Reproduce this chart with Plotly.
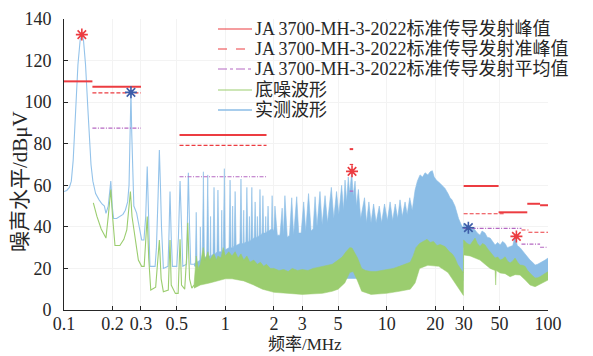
import plotly.graph_objects as go

# ---------------- data ----------------
# measured waveform, low-frequency part (drawn as a line)
meas_line_f = [0.100, 0.104, 0.108, 0.111, 0.114, 0.118, 0.122, 0.126, 0.129, 0.132,
               0.136, 0.141, 0.147, 0.151, 0.157, 0.165, 0.172, 0.178, 0.182, 0.188,
               0.195, 0.199, 0.203, 0.212, 0.222, 0.232, 0.240, 0.248, 0.253, 0.257,
               0.260, 0.263, 0.267, 0.271, 0.282, 0.292, 0.303, 0.313, 0.321, 0.328,
               0.334, 0.341, 0.367, 0.374, 0.383, 0.390, 0.396, 0.402, 0.413, 0.441,
               0.447, 0.454, 0.462, 0.470, 0.500, 0.512, 0.524, 0.535, 0.545, 0.575,
               0.582, 0.590, 0.600, 0.610, 0.640]
meas_line_v = [57, 57.5, 59, 62, 72, 95, 118, 130, 132.5, 130,
               118, 95, 70, 62, 56, 53, 51, 50, 46.5, 50,
               62, 50, 44, 44, 45, 46, 48, 52, 60, 85,
               104.7, 85, 60, 50, 46.6, 40, 33.7, 33.7, 45, 69,
               40, 21, 21, 30, 55, 77, 60, 40, 20, 21,
               35, 57, 35, 21, 21, 35, 62, 35, 21, 22,
               40, 66, 40, 22, 22]

# measured waveform, dense part: upper edge
meas_hi_f = [0.64, 0.652, 0.66, 0.668, 0.695, 0.70, 0.706, 0.72, 0.731, 0.742,
             0.766, 0.778, 0.79, 0.805, 0.81, 0.816, 0.838, 0.851, 0.864, 0.887,
             0.90, 0.914, 0.943, 0.95, 0.957, 0.971, 0.986, 1.00, 1.054, 1.07,
             1.086, 1.103, 1.11, 1.118, 1.133, 1.15, 1.167, 1.231, 1.25, 1.269,
             1.29, 1.30, 1.31, 1.34, 1.36, 1.38, 1.40, 1.41, 1.42, 1.44,
             1.46, 1.48, 1.51, 1.53, 1.55, 1.57, 1.58, 1.59, 1.62, 1.64,
             1.66, 1.69, 1.71, 1.73, 1.77, 1.78, 1.79, 1.82, 1.84, 1.86,
             1.93, 1.95, 1.97, 2.00, 2.03,
             2.10, 2.18, 2.25, 2.29, 2.34,
             2.42, 2.50, 2.58, 2.65, 2.77, 2.85, 2.95, 3.06, 3.15, 3.28,
             3.40, 3.50, 3.60, 3.70, 3.86, 3.98, 4.15, 4.30, 4.54, 4.70,
             4.89, 5.05, 5.26, 5.40, 5.52, 5.65, 5.78, 5.90, 6.07, 6.20,
             6.37, 6.50, 6.68, 6.90, 7.29, 7.50, 7.76, 8.0, 8.3, 8.6,
             9.0, 9.3, 9.7, 10.1, 10.5, 10.9, 11.3, 11.7, 12.1, 12.5,
             13.0, 13.4, 13.9, 14.4, 15.0, 15.5, 16.1, 16.7, 17.3, 18.0,
             18.6, 19.2, 19.7, 20.3, 21.4, 22.2, 23.0, 24.0, 24.7, 25.4,
             26.5, 27.2, 27.9, 29.0, 29.9,
             30.0, 30.6, 31.5, 32.1, 32.9, 33.8, 35.3, 36.5, 37.9, 39.0,
             40.7, 42.0, 43.8, 45.3, 47.0, 48.8, 50.5, 52.3, 54.2, 56.0,
             58.2, 60.5, 62.5, 64.5, 67.1, 69.5, 72.1, 74.5, 77.4, 80.2,
             83.2, 86.2, 89.3, 92.5, 95.9, 100]
meas_hi_v = [22, 23, 47, 23, 24, 40, 24, 25, 66.5, 25,
             26, 65, 26, 26, 45, 26, 27, 59, 27, 28,
             57.7, 28, 28, 48, 28, 29, 68, 29, 30, 62.5,
             30, 30, 50, 30, 31, 57, 31, 32, 63, 32,
             32, 48, 32, 33, 59, 33, 33, 45, 33, 34,
             59, 34, 35, 52, 35, 35, 45, 35, 36, 58,
             36, 37, 55, 37, 37, 45, 37, 38, 50, 38,
             39, 55, 39, 38, 50,
             36, 36, 49, 36, 55,
             35, 36, 54, 36, 54.5, 37, 37, 52, 38, 56,
             38, 39, 54.5, 40, 57, 41, 55, 42, 59, 44,
             57, 46, 60, 48, 62.5, 52, 64, 56, 66.5, 55,
             62, 50, 58, 44, 54, 42, 52, 42, 51, 42,
             50, 42, 51, 43, 52, 43, 51, 44, 53, 45,
             52, 46, 54, 48, 57.7, 62, 65, 64, 66, 65,
             66.5, 67, 64, 62.5, 61, 59.5, 58.5, 56, 54, 53,
             50, 47, 44, 41, 39.3,
             41.7, 40, 41, 40, 38, 40, 38.5, 37, 36, 38,
             37, 35, 34.6, 33, 31.3, 32.5, 31.3, 33, 32, 30,
             30.5, 31, 36, 31, 30, 28.5, 27.4, 26, 24, 23,
             21.6, 22, 22.6, 23, 24, 25]
# measured waveform, dense part: lower edge
meas_lo_f = [0.64, 0.70, 0.80, 1.0, 1.5, 2.0, 5.0, 10.0, 14.0, 16.0,
             20.0, 25.0, 28.0, 29.9, 30.0, 40.0, 50.0, 60.0, 70.0, 80.0,
             90.0, 100]
meas_lo_v = [21, 20, 20, 20, 18, 15, 15, 15, 17, 25,
             25, 22, 17, 14, 30, 29, 22, 21, 20, 15,
             15, 17]

# noise floor, low-frequency part (line)
noise_line_f = [0.152, 0.160, 0.170, 0.182, 0.188, 0.195, 0.200, 0.207, 0.222, 0.235,
                0.245, 0.252, 0.258, 0.264, 0.276, 0.289, 0.303, 0.314, 0.322, 0.328,
                0.335, 0.345, 0.370, 0.380, 0.390, 0.400, 0.413, 0.443, 0.450, 0.454,
                0.462, 0.490, 0.510, 0.518, 0.524, 0.535, 0.560, 0.575, 0.585, 0.600,
                0.620, 0.640]
noise_line_v = [51.5, 45, 39, 34.6, 45, 58, 45, 31, 31, 34,
                38.5, 50, 57, 45, 33.7, 24, 21, 21, 35, 45,
                25, 9.6, 11, 25, 33.7, 15, 8.8, 9.6, 22, 33.7,
                12, 8, 8, 22, 34, 12, 10, 25, 42, 15,
                10.5, 12]
# noise floor, dense part: upper edge
noise_hi_f = [0.64, 0.66, 0.68, 0.70, 0.73, 0.75, 0.78, 0.80, 0.83, 0.85,
              0.88, 0.90, 0.94, 0.97, 1.00, 1.05, 1.10, 1.15, 1.20, 1.25,
              1.30, 1.36, 1.42, 1.50, 1.58, 1.65, 1.73, 1.80, 1.90, 2.00,
              2.15, 2.30, 2.45, 2.60, 2.80, 3.00, 3.25, 3.50, 3.75, 4.00,
              4.30, 4.60, 5.00, 5.30, 5.60, 5.90, 6.10, 6.30, 6.60, 7.00,
              7.40, 8.00, 8.60, 9.30, 10.0, 11.0, 12.0, 13.0, 14.0, 14.6,
              15.2, 16.0, 17.0, 17.8, 18.6, 19.5, 20.5, 21.5, 23.0, 24.5,
              25.5, 26.5, 27.5, 28.5, 29.9,
              30.0, 31.5, 32.9, 34.0, 35.3, 36.5, 37.9, 39.3, 40.7, 42.2,
              43.8, 45.3, 47.0, 48.8, 50.5, 52.3, 54.2, 56.2, 58.2, 60.3,
              62.5, 64.8, 67.1, 69.5, 72.1, 74.7, 77.4, 80.2, 83.2, 86.2,
              89.3, 92.5, 95.9, 100]
noise_hi_v = [12, 26, 20, 22, 30, 24, 28, 24, 26, 27,
              24, 26, 25, 30, 26, 28, 26, 28, 25, 27,
              24, 26, 23, 24, 22, 23, 21, 22, 20, 20,
              19, 19.5, 18.5, 20, 19, 19.5, 19, 20, 20.5, 21,
              21.5, 22, 24, 25.5, 28, 30, 29.8, 28, 25, 20,
              19, 18.5, 18.5, 19, 19.5, 20, 21, 22, 23, 26,
              30, 32, 33, 34, 32.5, 33, 31, 31.5, 30.5, 28,
              27, 25, 22, 20, 17.8,
              33.7, 32, 31.3, 33, 34.6, 32, 30.5, 32, 31.3, 29.5,
              28, 26.5, 25, 25.5, 24, 24.5, 25.6, 23.5, 22.6, 23.5,
              25, 23, 21.6, 21.5, 21, 19, 17.6, 16.5, 15.4, 15.5,
              16, 17, 17.6, 18.4]
# noise floor, dense part: lower edge
noise_lo_f = [0.64, 0.70, 0.80, 0.90, 1.00, 1.10, 1.30, 1.50, 1.70, 2.00,
              2.50, 3.00, 4.00, 4.60, 5.00, 5.50, 5.90, 6.20, 6.60, 7.00,
              8.00, 10.0, 12.0, 14.0, 15.0, 16.0, 18.0, 21.0, 24.0, 26.5,
              28.5, 29.9,
              30.0, 32.9, 35.3, 37.9, 40.7, 43.8, 47.0, 47.4, 47.8, 50.5,
              54.2, 58.2, 62.5, 67.1, 72.1, 77.4, 83.2, 89.3, 95.9, 100]
noise_lo_v = [10.5, 12, 13, 14, 15, 15, 14, 12, 10, 8.5,
              8, 7.5, 8, 9, 10, 13, 18, 18.5, 14, 9,
              7.5, 8, 9, 10, 13, 20, 21.5, 21, 18, 13,
              9, 7,
              26.5, 26, 25, 24, 22, 20, 19, 12, 19, 17.8,
              17.5, 16, 17, 16.8, 14.5, 12, 11.2, 12.5, 13.6, 14.4]

# JA 3700-MH-3-2022 limits: segment start, end (MHz) and level (dBuV)
peak_f0 = [0.10, 0.15, 0.52, 5.9, 30, 49.4, 74.4, 89.3]
peak_f1 = [0.15, 0.30, 1.8, 6.2, 49.4, 74.4, 89.3, 100]
peak_v = [110, 107.4, 84.2, 77.4, 59.6, 47, 51.1, 50.4]
qp_f0 = [0.15, 0.52, 5.9, 30, 68.5, 75.6]
qp_f1 = [0.30, 1.8, 6.2, 54, 75.6, 100]
qp_v = [104.5, 79.2, 70, 46.3, 38.5, 37.4]
avg_f0 = [0.15, 0.52, 5.9, 30, 68.5, 89.3]
avg_f1 = [0.30, 1.8, 6.2, 68.5, 89.3, 100]
avg_v = [87.5, 64.1, 57.2, 39.3, 31.7, 30.2]

# marked points
red_mark_f = [0.129, 6.1, 63.7]
red_mark_v = [132.5, 66.7, 35.4]
blue_mark_f = [0.26, 32.1]
blue_mark_v = [104.7, 39.6]

x_ticks = [0.1, 0.2, 0.3, 0.5, 1, 2, 3, 5, 10, 20, 30, 50, 100]
x_tick_text = ["0.1", "0.2", "0.3", "0.5", "1", "2", "3", "5", "10", "20", "30", "50", "100"]

legend_names = ["JA 3700-MH-3-2022标准传导发射峰值",
                "JA 3700-MH-3-2022标准传导发射准峰值",
                "JA 3700-MH-3-2022标准传导发射平均值",
                "底噪波形", "实测波形"]
x_title = "频率/MHz"
y_title = "噪声水平/dBμV"

# ---------------- styles ----------------
C_BLUE = "#8bbde6"
C_BLUE_LINE = "#94c3ea"
C_GREEN = "#9bcd6f"
C_RED = "#ec3c41"
C_PURPLE = "#b568c2"
C_STAR = "#3d5da8"
FONT = "Liberation Serif, Noto Sans CJK SC, serif"
TXT = "#262626"


def segments(f0, f1, v):
    xs, ys = [], []
    for a, b, c in zip(f0, f1, v):
        xs += [a, b, None]
        ys += [c, c, None]
    return xs, ys


fig = go.Figure()

# measured band
fig.add_trace(go.Scatter(x=meas_lo_f, y=meas_lo_v, mode="lines", line=dict(width=0, color=C_BLUE),
                         showlegend=False, hoverinfo="skip"))
fig.add_trace(go.Scatter(x=meas_hi_f, y=meas_hi_v, mode="lines", fill="tonexty", fillcolor=C_BLUE,
                         line=dict(width=0.6, color=C_BLUE), showlegend=False, name=legend_names[4]))
fig.add_trace(go.Scatter(x=meas_line_f, y=meas_line_v, mode="lines",
                         line=dict(width=1.1, color=C_BLUE_LINE), name=legend_names[4], showlegend=False))
# noise band
fig.add_trace(go.Scatter(x=noise_lo_f, y=noise_lo_v, mode="lines", line=dict(width=0.5, color=C_GREEN),
                         showlegend=False, hoverinfo="skip"))
fig.add_trace(go.Scatter(x=noise_hi_f, y=noise_hi_v, mode="lines", fill="tonexty", fillcolor=C_GREEN,
                         line=dict(width=0.6, color=C_GREEN), showlegend=False, name=legend_names[3]))
fig.add_trace(go.Scatter(x=noise_line_f, y=noise_line_v, mode="lines",
                         line=dict(width=1.1, color=C_GREEN), name=legend_names[3], showlegend=False))

# limit lines
px_, py_ = segments(peak_f0, peak_f1, peak_v)
fig.add_trace(go.Scatter(x=px_, y=py_, mode="lines", line=dict(width=2, color=C_RED),
                         name=legend_names[0], showlegend=False))
qx_, qy_ = segments(qp_f0, qp_f1, qp_v)
fig.add_trace(go.Scatter(x=qx_, y=qy_, mode="lines", line=dict(width=1.2, color=C_RED, dash="4px,2px"),
                         name=legend_names[1], showlegend=False))
ax_, ay_ = segments(avg_f0, avg_f1, avg_v)
fig.add_trace(go.Scatter(x=ax_, y=ay_, mode="lines",
                         line=dict(width=1.2, color=C_PURPLE, dash="4px,1.5px,1px,1.5px"),
                         name=legend_names[2], showlegend=False))

# markers
fig.add_trace(go.Scatter(x=red_mark_f, y=red_mark_v, mode="markers",
                         marker=dict(symbol="asterisk-open", size=10, color=C_RED,
                                     line=dict(width=1.6, color=C_RED)),
                         showlegend=False))
fig.add_trace(go.Scatter(x=red_mark_f, y=red_mark_v, mode="markers",
                         marker=dict(symbol="circle", size=4, color=C_RED, line=dict(width=0)),
                         showlegend=False))
fig.add_trace(go.Scatter(x=blue_mark_f, y=blue_mark_v, mode="markers",
                         marker=dict(symbol="asterisk-open", size=10, color=C_STAR,
                                     line=dict(width=1.6, color=C_STAR)),
                         showlegend=False))
fig.add_trace(go.Scatter(x=blue_mark_f, y=blue_mark_v, mode="markers",
                         marker=dict(symbol="circle", size=4, color=C_STAR, line=dict(width=0)),
                         showlegend=False))

# The page body has an 8px margin, so the figure is made 8px smaller and the
# plot area is placed so that it lands at page pixels x 64..548, y 19..310.
BODY = 8
W, H = 593 - BODY, 356 - BODY
L, R, T, B = 64, 548, 19, 310          # page pixels of the plot area


def px2x(p):
    return (p - L) / (R - L)


def py2y(p):
    return (B - p) / (B - T)


rows_px = [29, 49, 69, 90, 110]
leg_styles = [dict(color=C_RED, width=1.2, dash="solid"),
              dict(color=C_RED, width=1, dash="dash"),
              dict(color=C_PURPLE, width=1, dash="dashdot"),
              dict(color=C_GREEN, width=1.2, dash="solid"),
              dict(color=C_BLUE, width=1.5, dash="solid")]
shapes = []
annotations = []
for name, rp, st in zip(legend_names, rows_px, leg_styles):
    shapes.append(dict(type="line", xref="paper", yref="paper", x0=px2x(218), x1=px2x(252),
                       y0=py2y(rp), y1=py2y(rp), line=st))
    annotations.append(dict(xref="paper", yref="paper", x=px2x(253), y=py2y(rp), text=name,
                            showarrow=False, xanchor="left", yanchor="middle",
                            font=dict(family=FONT, size=18, color=TXT)))
# axis titles
annotations.append(dict(xref="paper", yref="paper", x=px2x(305), y=py2y(344), text=x_title,
                        showarrow=False, xanchor="center", yanchor="middle",
                        font=dict(family=FONT, size=17, color=TXT)))
annotations.append(dict(xref="paper", yref="paper", x=px2x(20), y=py2y(182), text=y_title,
                        showarrow=False, xanchor="center", yanchor="middle", textangle=-90,
                        font=dict(family=FONT, size=21, color=TXT)))

fig.update_layout(
    width=W, height=H, autosize=False,
    margin=dict(l=L - BODY, r=593 - R, t=T - BODY, b=356 - B, pad=0),
    paper_bgcolor="white", plot_bgcolor="white",
    showlegend=False,
    shapes=shapes, annotations=annotations,
    font=dict(family=FONT, size=17, color=TXT),
)
fig.update_xaxes(type="log", range=[-1, 2], tickvals=x_ticks, ticktext=x_tick_text,
                 ticks="inside", ticklen=4, tickcolor=TXT, showline=True, linecolor=TXT, linewidth=1,
                 showgrid=True, gridcolor="#f3f3f3", zeroline=False, automargin=False,
                 ticklabelstandoff=-3,
                 tickfont=dict(family=FONT, size=18, color=TXT))
fig.update_yaxes(range=[0, 140], dtick=20, ticks="inside", ticklen=4, tickcolor=TXT,
                 showline=True, linecolor=TXT, linewidth=1, showgrid=True, gridcolor="#f3f3f3",
                 zeroline=False, automargin=False, ticklabelstandoff=8,
                 tickfont=dict(family=FONT, size=18, color=TXT))

fig.write_html("out.html")
